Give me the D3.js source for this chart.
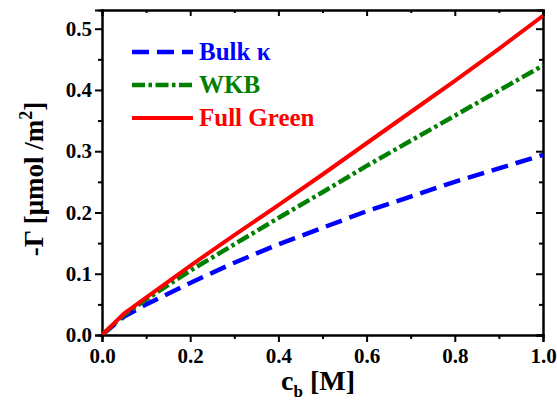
<!DOCTYPE html>
<html lang="en">
<head>
<meta charset="UTF-8">
<title>Gamma vs cb</title>
<script src="https://d3js.org/d3.v7.min.js"></script>
<style>
    body { margin: 0; background: #fff; }
    svg text { font-family: "Liberation Serif", "Times New Roman", serif; font-weight: bold; }
</style>
</head>
<body>
<div id="chart"></div>
<script>
// Data
var cb = [0, 0.05, 0.1, 0.2, 0.3, 0.4, 0.5, 0.6, 0.7, 0.8, 0.9, 1.0];
var bulkKappa = [0, 0.030, 0.050, 0.085, 0.118, 0.148, 0.175, 0.202, 0.226, 0.250, 0.272, 0.294];
var wkb       = [0, 0.033, 0.058, 0.105, 0.148, 0.191, 0.233, 0.276, 0.317, 0.358, 0.399, 0.440];
var fullGreen = [0, 0.035, 0.061, 0.113, 0.163, 0.212, 0.262, 0.313, 0.364, 0.415, 0.467, 0.521];
var seriesNames = ["Bulk \u03BA", "WKB", "Full Green"];
var xTicks = [0, 0.2, 0.4, 0.6, 0.8, 1.0];
var yTicks = [0, 0.1, 0.2, 0.3, 0.4, 0.5];

var width = 557, height = 402;
// plot frame (don't call it "top" - clashes with window.top)
var plotL = 102, plotR = 543, plotT = 10, plotB = 335;

var svg = d3.select("#chart").append("svg")
    .attr("width", width)
    .attr("height", height);

var x = d3.scaleLinear().domain([0, 1]).range([plotL, plotR]);
var y = d3.scaleLinear().domain([0, 0.5305]).range([plotB, plotT]);

// minor ticks
var xMinor = [0.1, 0.3, 0.5, 0.7, 0.9];
var yMinor = [0.05, 0.15, 0.25, 0.35, 0.45];

function styleAxis(g) {
    g.selectAll("path").attr("stroke", "#000").attr("stroke-width", 2);
    g.selectAll("line").attr("stroke", "#000").attr("stroke-width", 2);
    g.selectAll("text").attr("font-size", "21px").attr("fill", "#000");
}

// bottom axis
svg.append("g")
    .attr("transform", "translate(0," + plotB + ")")
    .call(d3.axisBottom(x).tickValues(xTicks).tickSize(7).tickPadding(6).tickFormat(d3.format(".1f")))
    .call(styleAxis);
svg.append("g")
    .attr("transform", "translate(0," + plotB + ")")
    .call(d3.axisBottom(x).tickValues(xMinor).tickSize(4).tickFormat(""))
    .call(styleAxis);

// left axis
svg.append("g")
    .attr("transform", "translate(" + plotL + ",0)")
    .call(d3.axisLeft(y).tickValues(yTicks).tickSize(7).tickPadding(3).tickFormat(d3.format(".1f")))
    .call(styleAxis);
svg.append("g")
    .attr("transform", "translate(" + plotL + ",0)")
    .call(d3.axisLeft(y).tickValues(yMinor).tickSize(4).tickFormat(""))
    .call(styleAxis);

// top axis (ticks inward)
svg.append("g")
    .attr("transform", "translate(0," + plotT + ")")
    .call(d3.axisTop(x).tickValues(xTicks).tickSize(-6).tickFormat(""))
    .call(styleAxis);
svg.append("g")
    .attr("transform", "translate(0," + plotT + ")")
    .call(d3.axisTop(x).tickValues(xMinor).tickSize(-3).tickFormat(""))
    .call(styleAxis);

// right axis (ticks inward)
svg.append("g")
    .attr("transform", "translate(" + plotR + ",0)")
    .call(d3.axisRight(y).tickValues(yTicks).tickSize(-7).tickFormat(""))
    .call(styleAxis);
svg.append("g")
    .attr("transform", "translate(" + plotR + ",0)")
    .call(d3.axisRight(y).tickValues(yMinor).tickSize(-4).tickFormat(""))
    .call(styleAxis);

// clip
svg.append("clipPath").attr("id", "clip")
    .append("rect")
    .attr("x", plotL).attr("y", plotT)
    .attr("width", plotR - plotL).attr("height", plotB - plotT);

var series = [
    { name: seriesNames[0], values: bulkKappa, color: "#0000ff", dash: "17,8", w: 4.5 },
    { name: seriesNames[1], values: wkb, color: "#008000", dash: "13,3.5,3.5,3.5", w: 4.5 },
    { name: seriesNames[2], values: fullGreen, color: "#ff0000", dash: null, w: 4 }
];

var line = d3.line()
    .x(function(d) { return x(d[0]); })
    .y(function(d) { return y(d[1]); });

series.forEach(function(s) {
    svg.append("path")
        .datum(cb.map(function(c, i) { return [c, s.values[i]]; }))
        .attr("clip-path", "url(#clip)")
        .attr("fill", "none")
        .attr("stroke", s.color)
        .attr("stroke-width", s.w)
        .attr("stroke-dasharray", s.dash)
        .attr("d", line);
});

// legend
var legend = svg.append("g");
series.forEach(function(s, i) {
    var ly = 52 + i * 33;
    legend.append("line")
        .attr("x1", 132).attr("x2", 193)
        .attr("y1", ly).attr("y2", ly)
        .attr("stroke", s.color)
        .attr("stroke-width", s.w)
        .attr("stroke-dasharray", s.dash);
    legend.append("text")
        .attr("x", 199).attr("y", ly + 8)
        .attr("font-size", "25px")
        .attr("fill", s.color)
        .text(s.name);
});

// x title
var xt = svg.append("text")
    .attr("x", 281).attr("y", 390)
    .attr("font-size", "28px")
    .attr("fill", "#000");
xt.append("tspan").text("c");
xt.append("tspan").attr("font-size", "17px").attr("dy", 7).text("b");
xt.append("tspan").attr("dy", -7).text(" [M]");

// y title
var yt = svg.append("text")
    .attr("transform", "translate(43,179) rotate(-90)")
    .attr("text-anchor", "middle")
    .attr("font-size", "27px")
    .attr("fill", "#000");
yt.append("tspan").text("-\u0393 [\u03BCmol /m");
yt.append("tspan").attr("font-size", "18px").attr("dy", -11).text("2");
yt.append("tspan").attr("dy", 11).text("]");
</script>
</body>
</html>
